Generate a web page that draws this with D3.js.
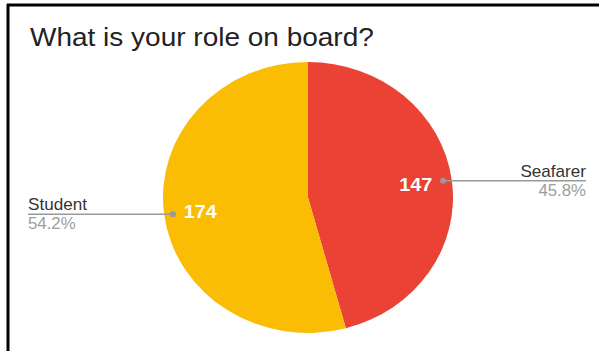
<!DOCTYPE html>
<html>
<head>
<meta charset="utf-8">
<script src="https://cdn.jsdelivr.net/npm/d3@7"></script>
<style>
  html, body { margin: 0; padding: 0; background: #fff; }
  svg { display: block; }
</style>
</head>
<body>
<script>
// Survey answers: role on board
const categories = ["Seafarer", "Student"];
const counts = [147, 174];
const colors = ["#EA4335", "#FBBC04"];
const title = "What is your role on board?";

const W = 599, H = 351;
const FONT = "Liberation Sans, Arial, sans-serif";
const svg = d3.select("body").append("svg").attr("width", W).attr("height", H);
svg.append("rect").attr("width", W).attr("height", H).attr("fill", "#fff");

// frame lines (top and left)
svg.append("line").attr("x1", 7).attr("x2", W).attr("y1", 5).attr("y2", 5)
  .attr("stroke", "#000").attr("stroke-width", 3);
svg.append("line").attr("x1", 8).attr("x2", 8).attr("y1", 4).attr("y2", H)
  .attr("stroke", "#000").attr("stroke-width", 3);

// text with a slight horizontal widening
function label(x, y, str, opts) {
  return svg.append("text")
    .attr("transform", `translate(${x},${y}) scale(${opts.sx || 1},1)`)
    .attr("text-anchor", opts.anchor || "start")
    .attr("font-family", FONT)
    .attr("font-weight", opts.weight || "normal")
    .attr("font-size", opts.size)
    .attr("fill", opts.fill)
    .text(str);
}

label(30, 46, title, { size: 25, sx: 1.12, fill: "#222" });

const cx = 308, cy = 197.5, rx = 145, ry = 135.5;
const sx = rx / ry;

const total = d3.sum(counts);
const pie = d3.pie().sort(null).value(d => d)(counts);
const arc = d3.arc().innerRadius(0).outerRadius(ry);

const g = svg.append("g").attr("transform", `translate(${cx},${cy}) scale(${sx},1)`);
g.selectAll("path").data(pie).join("path")
  .attr("d", arc)
  .attr("fill", (d, i) => colors[i]);

// point on the ellipse at a given angle (clockwise from top) and radius fraction
function pt(angle, frac) {
  return [cx + Math.sin(angle) * rx * frac, cy - Math.cos(angle) * ry * frac];
}

pie.forEach((d, i) => {
  const mid = (d.startAngle + d.endAngle) / 2;
  const [lx, ly] = pt(mid, 0.75);
  label(lx, ly + 7, counts[i], { size: 19, weight: "bold", anchor: "middle", sx: 1.04, fill: "#fff" });

  const [dx, dy] = pt(mid, 0.94);
  const right = Math.sin(mid) > 0;
  const endX = right ? 586 : 28;
  svg.append("line").attr("x1", dx).attr("y1", dy).attr("x2", endX).attr("y2", dy)
    .attr("stroke", "#999").attr("stroke-width", 1.5);
  svg.append("circle").attr("cx", dx).attr("cy", dy).attr("r", 3).attr("fill", "#999");

  const anchor = right ? "end" : "start";
  label(endX, dy - 4, categories[i], { size: 16, sx: 1.07, anchor, fill: "#333" });
  label(endX, dy + 15, (counts[i] / total * 100).toFixed(1) + "%",
    { size: 16, sx: 1.05, anchor, fill: "#9e9e9e" });
});
</script>
</body>
</html>
